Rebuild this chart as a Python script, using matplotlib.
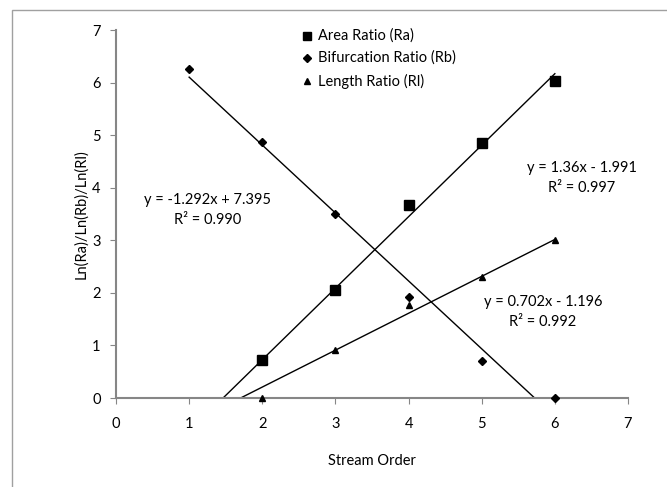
import matplotlib
matplotlib.use("Agg")
import matplotlib.pyplot as plt
from matplotlib.patches import Rectangle
import numpy as np

plt.rcParams['font.family'] = ['Lato', 'DejaVu Sans']

# Data
order_ra = [2, 3, 4, 5, 6]
ln_ra = [0.73, 2.06, 3.67, 4.85, 6.03]
order_rb = [1, 2, 3, 4, 5, 6]
ln_rb = [6.25, 4.87, 3.50, 1.93, 0.71, 0.0]
order_rl = [2, 3, 4, 5, 6]
ln_rl = [0.0, 0.92, 1.77, 2.30, 3.00]

# Trendline coefficients (slope, intercept)
fit_ra = (1.36, -1.991)
fit_rb = (-1.292, 7.395)
fit_rl = (0.702, -1.196)

labels = ["Area Ratio (Ra)", "Bifurcation Ratio (Rb)", "Length Ratio (Rl)"]
eq_texts = ["y = 1.36x - 1.991\nR² = 0.997",
            "y = -1.292x + 7.395\nR² = 0.990",
            "y = 0.702x - 1.196\nR² = 0.992"]
xticks = [0, 1, 2, 3, 4, 5, 6, 7]
yticks = [0, 1, 2, 3, 4, 5, 6, 7]

W, H = 667, 487
fig = plt.figure(figsize=(W / 100, H / 100), dpi=100)
fig.patches.append(Rectangle((12 / W, -0.1), 1.2, 1 - 10 / H + 0.1,
                             transform=fig.transFigure, fill=False,
                             edgecolor='#a0a0a0', linewidth=1.0))
ax = fig.add_axes([116 / W, 1 - 398 / H, (628 - 116) / W, (398 - 30) / H])

gray = '#868686'
for s in ['top', 'right']:
    ax.spines[s].set_visible(False)
for s in ['left', 'bottom']:
    ax.spines[s].set_color(gray)
    ax.spines[s].set_linewidth(1.5)
ax.tick_params(axis='both', direction='out', length=4, color=gray,
               labelsize=10.5)
ax.tick_params(axis='x', pad=10)
ax.tick_params(axis='y', pad=7)

ax.set_xlim(0, 7)
ax.set_ylim(0, 7)
ax.set_xticks(xticks)
ax.set_yticks(yticks)

xs = np.linspace(1, 6, 200)
for (m, b) in [fit_ra, fit_rb, fit_rl]:
    ax.plot(xs, m * xs + b, color='black', linewidth=1.0, zorder=2)

ax.plot(order_ra, ln_ra, 's', color='black', markersize=6.5, zorder=3, clip_on=False)
ax.plot(order_rb, ln_rb, 'D', color='black', markersize=4.5, zorder=3, clip_on=False)
ax.plot(order_rl, ln_rl, '^', color='black', markersize=5, zorder=3, clip_on=False)

# Legend (manual)
leg_y = [36, 58, 81]
mk = ['s', 'D', '^']
ms = [6, 4, 5]
for yy, m_, s_, lab in zip(leg_y, mk, ms, labels):
    fig.lines.append(plt.Line2D([307 / W], [1 - yy / H], marker=m_, color='black',
                                markersize=s_, linestyle='None',
                                transform=fig.transFigure))
    fig.text(318 / W, 1 - yy / H, lab, fontsize=10.5, va='center', ha='left')

# Equations
eq_pos = [(582, 178), (208, 210), (543, 312)]
for (px, py), t in zip(eq_pos, eq_texts):
    fig.text(px / W, 1 - py / H, t, fontsize=10.5, ha='center',
             va='center', linespacing=1.55, multialignment='center')

ax.set_xlabel("Stream Order", fontsize=10.5, labelpad=16)
ax.set_ylabel("Ln(Ra)/Ln(Rb)/Ln(Rl)", fontsize=10.5, labelpad=3)

fig.savefig("out.png", dpi=100)
